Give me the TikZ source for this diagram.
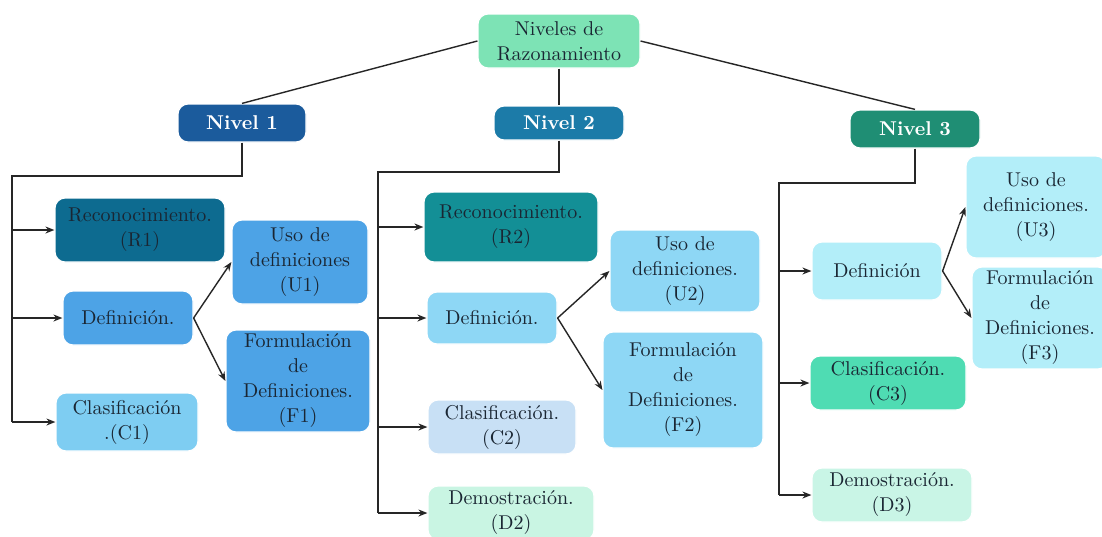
\documentclass[tikz,border=0pt]{standalone}
\usetikzlibrary{arrows.meta}
\definecolor{txt}{HTML}{1A2633}
\definecolor{ctitle}{HTML}{7DE3B5}
\definecolor{cnA}{HTML}{1B5B9C}
\definecolor{cnB}{HTML}{1C7BA8}
\definecolor{cnC}{HTML}{1F8E74}
\definecolor{cRa}{HTML}{0D6B90}
\definecolor{cBa}{HTML}{4DA3E6}
\definecolor{cCa}{HTML}{7ECDF2}
\definecolor{cRb}{HTML}{138F96}
\definecolor{cBb}{HTML}{8ED7F5}
\definecolor{cCb}{HTML}{C8E0F5}
\definecolor{cDb}{HTML}{C9F5E3}
\definecolor{cBc}{HTML}{B3EEF9}
\definecolor{cCc}{HTML}{4FDCB3}
\definecolor{cDc}{HTML}{C9F5E6}
\tikzset{
  box/.style={rounded corners=5pt, align=center, text=txt, inner sep=2pt,
    font=\fontsize{10}{12.5}\selectfont, draw=white, line width=0.6pt},
  lvl/.style={box, text=white, font=\fontsize{10}{12}\selectfont\bfseries},
  conn/.style={draw=black!85, line width=0.7pt},
  arr/.style={conn, -{Stealth[length=4.5pt,width=3.5pt]}},
}
\begin{document}
\begin{tikzpicture}[x=0.5pt,y=-0.5pt]
\useasboundingbox (0,0) rectangle (1102,536);
\fill[white] (0,0) rectangle (1102,536);
\clip (0,0) rectangle (1102,536);

% top
\node[box, fill=ctitle, minimum width=81pt, minimum height=27pt] (top) at (559,41) {Niveles de\\Razonamiento};
\node[lvl, fill=cnA, minimum width=64pt, minimum height=19pt] (n1) at (242,123) {Nivel 1};
\node[lvl, fill=cnB, minimum width=65pt, minimum height=17pt] (n2) at (559,123) {Nivel 2};
\node[lvl, fill=cnC, minimum width=65pt, minimum height=19pt] (n3) at (915,129) {Nivel 3};

\draw[conn] (top.west) -- (n1.north);
\draw[conn] (top.south) -- (n2.north);
\draw[conn] (top.east) -- (n3.north);

% Nivel 1
\node[box, fill=cRa, minimum width=85pt, minimum height=32pt] (r1) at (140,230) {Reconocimiento.\\(R1)};
\node[box, fill=cBa, minimum width=65pt, minimum height=27pt] (d1) at (128,318) {Definición.};
\node[box, fill=cBa, minimum width=68pt, minimum height=42pt] (u1) at (300,262) {Uso de\\definiciones\\(U1)};
\node[box, fill=cBa, minimum width=72pt, minimum height=51pt] (f1) at (298,381) {Formulación\\de\\Definiciones.\\(F1)};
\node[box, fill=cCa, minimum width=71pt, minimum height=29pt] (c1) at (127,422) {Clasificación\\.(C1)};

\coordinate (k1) at (12,176);
\draw[conn] (n1.south) |- (k1) -- (k1 |- c1.west);
\draw[arr] (k1 |- r1.west) -- (r1.west);
\draw[arr] (k1 |- d1.west) -- (d1.west);
\draw[arr] (k1 |- c1.west) -- (c1.west);
\draw[arr] (d1.east) -- (u1.west);
\draw[arr] (d1.east) -- (f1.west);

% Nivel 2
\node[box, fill=cRb, minimum width=87pt, minimum height=35pt] (r2) at (511,227) {Reconocimiento.\\(R2)};
\node[box, fill=cBb, minimum width=65pt, minimum height=26pt] (d2f) at (492,318) {Definición.};
\node[box, fill=cBb, minimum width=75pt, minimum height=41pt] (u2) at (685,271) {Uso de\\definiciones.\\(U2)};
\node[box, fill=cBb, minimum width=80pt, minimum height=58pt] (f2) at (683,390) {Formulación\\de\\Definiciones.\\(F2)};
\node[box, fill=cCb, minimum width=74pt, minimum height=27pt] (c2) at (502,427) {Clasificación.\\(C2)};
\node[box, fill=cDb, minimum width=83pt, minimum height=27pt] (e2) at (511,513) {Demostración.\\(D2)};

\coordinate (k2) at (378,172);
\draw[conn] (n2.south) |- (k2) -- (k2 |- e2.west);
\draw[arr] (k2 |- r2.west) -- (r2.west);
\draw[arr] (k2 |- d2f.west) -- (d2f.west);
\draw[arr] (k2 |- c2.west) -- (c2.west);
\draw[arr] (k2 |- e2.west) -- (e2.west);
\draw[arr] (d2f.east) -- (u2.west);
\draw[arr] (d2f.east) -- (f2.west);

% Nivel 3
\node[box, fill=cBc, minimum width=65pt, minimum height=29pt] (d3) at (877,271) {Definición};
\node[box, fill=cBc, minimum width=70pt, minimum height=51pt] (u3) at (1036,207) {Uso de\\definiciones.\\(U3)};
\node[box, fill=cBc, minimum width=68pt, minimum height=44pt] (f3) at (1040,318) {Formulación\\de\\Definiciones.\\(F3)};
\node[box, fill=cCc, minimum width=78pt, minimum height=27pt] (c3) at (888,383) {Clasificación.\\(C3)};
\node[box, fill=cDc, minimum width=80pt, minimum height=27pt] (e3) at (892,495) {Demostración.\\(D3)};

\coordinate (k3) at (779,183);
\draw[conn] (n3.south) |- (k3) -- (k3 |- e3.west);
\draw[arr] (k3 |- d3.west) -- (d3.west);
\draw[arr] (k3 |- c3.west) -- (c3.west);
\draw[arr] (k3 |- e3.west) -- (e3.west);
\draw[arr] (d3.east) -- (u3.west);
\draw[arr] (d3.east) -- (f3.west);
\end{tikzpicture}
\end{document}
